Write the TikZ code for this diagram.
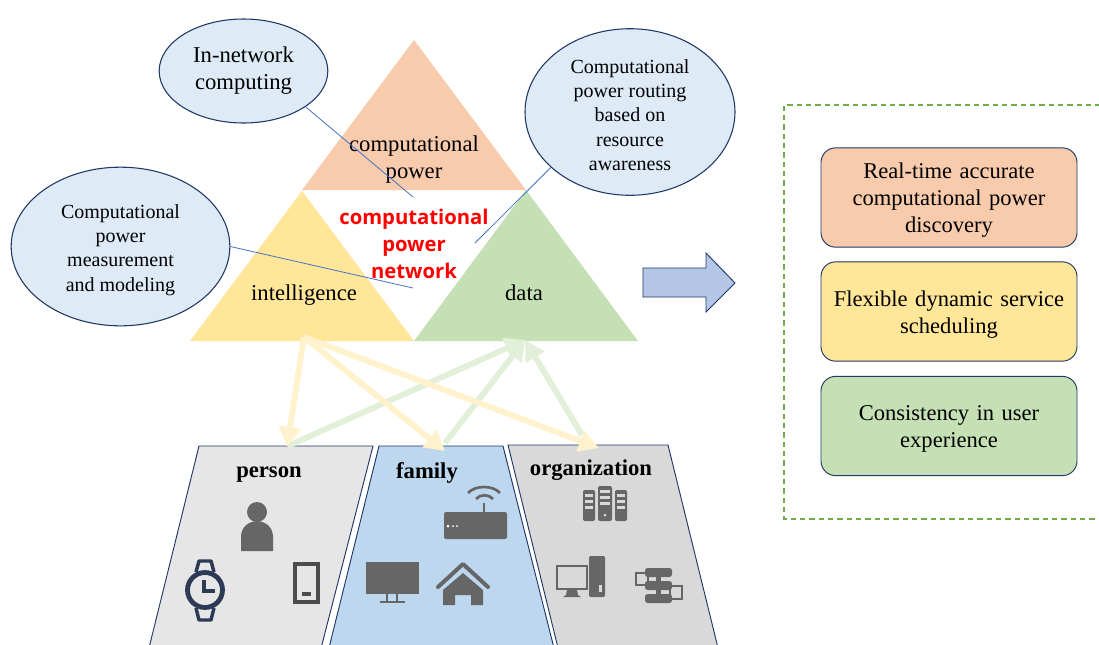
\documentclass[tikz,border=0pt]{standalone}
\usepackage{fontspec}
\setmainfont{Liberation Serif}
\newfontfamily\redfont{Open Sans}
\usetikzlibrary{shapes.geometric,arrows.meta}
\definecolor{powerfill}{HTML}{F8CBAD}
\definecolor{intelfill}{HTML}{FFE699}
\definecolor{datafill}{HTML}{C5E0B4}
\definecolor{bubblefill}{HTML}{DEEBF7}
\definecolor{personfill}{HTML}{E6E6E6}
\definecolor{familyfill}{HTML}{BDD7EE}
\definecolor{orgfill}{HTML}{D9D9D9}
\definecolor{arrowfill}{HTML}{B4C7E7}
\definecolor{darkline}{HTML}{1F3864}
\definecolor{leader}{HTML}{4472C4}
\definecolor{dashgreen}{HTML}{70AD47}
\definecolor{yellowarrow}{HTML}{FFF2CC}
\definecolor{greenarrow}{HTML}{E2F0D9}
\definecolor{icongray}{HTML}{666666}
\definecolor{watchdark}{HTML}{2D3A55}
\tikzset{
  bubble/.style={ellipse, draw=darkline, fill=bubblefill, line width=0.8pt, inner sep=0pt, align=center},
  bubbletext/.style={font=\fontsize{15}{18.3}\selectfont},
  tri/.style={font=\fontsize{17}{20}\selectfont, align=center, text=black},
  goalbox/.style={draw=darkline, rounded corners=11pt, line width=0.7pt, minimum width=192pt, minimum height=74.5pt, align=center, text width=180pt, font=\fontsize{16.9}{20.25}\selectfont, execute at begin node={\rule{0pt}{16pt}}},
  leaderline/.style={leader, line width=0.6pt},
  flowy/.style={yellowarrow, line width=4.4pt, -{Triangle[length=15pt,width=16pt]}},
  flowg/.style={greenarrow, line width=4.4pt, -{Triangle[length=15pt,width=16pt]}},
  group/.style={draw=darkline, line width=0.7pt},
  grouplabel/.style={font=\fontsize{17}{20}\selectfont\bfseries},
  icon/.style={fill=icongray, draw=none}
}
\begin{document}
\begin{tikzpicture}[x=0.75pt,y=-0.75pt]
    \path[use as bounding box, clip] (0,0) rectangle (1099,644);
    \fill[white] (0,0) rectangle (1099,644);
    \fill[powerfill] (414,40) -- (526,190) -- (302,190) -- cycle;
    \fill[intelfill] (302,191) -- (414,341) -- (190,341) -- cycle;
    \fill[datafill] (526,190) -- (638,341) -- (414,341) -- cycle;
    \node[tri] (power) at (414,159.5) {computational\\power};
    \node[tri] (intel) at (304,295) {intelligence};
    \node[tri] (data) at (524,293) {data};
    \node[align=center, text=red, font=\redfont\fontsize{15.2}{20.25}\selectfont\bfseries] (cpn) at (414,244) {computational\\power\\network};
    \node[bubble, minimum width=126.5pt, minimum height=78pt, font=\fontsize{17}{20.25}\selectfont] (innet) at (243.5,71) {In-network\\computing};
    \node[bubble, bubbletext, minimum width=157.5pt, minimum height=111pt] (routing) at (630,112) {\rule{0pt}{15pt}Computational\\power routing\\based on\\resource\\awareness};
    \node[bubble, bubbletext, minimum width=164pt, minimum height=119pt] (measure) at (120.5,246.5) {\rule{0pt}{15.5pt}Computational\\power\\measurement\\and modeling};
    \coordinate (innetend) at (413,197);
    \coordinate (routingend) at (475,243);
    \coordinate (measureend) at (413,288);
    \draw[leaderline] (innet.-30) -- (innetend);
    \draw[leaderline] (routing.215) -- (routingend);
    \draw[leaderline] (measure.0) -- (measureend);
    \draw[group, fill=personfill] (199,446) -- (373,446) -- (318,660) -- (146,660) -- cycle;
    \draw[group, fill=familyfill] (379,446) -- (503,446) -- (557,660) -- (326,660) -- cycle;
    \draw[group, fill=orgfill] (508,445) -- (668,445) -- (721,660) -- (561,660) -- cycle;
    \node[grouplabel] (person) at (269,475) {person};
    \node[grouplabel] (family) at (427,472.5) {family};
    \node[grouplabel] (organization) at (591,470.5) {organization};
    \coordinate (intelroot) at (304,337);
    \coordinate (dataroot) at (525,340);
    \coordinate (persontip) at (287,447);
    \coordinate (familytip) at (445,451);
    \coordinate (orgtip) at (599,448);
    \coordinate (personfoot) at (288,446);
    \coordinate (familyfoot) at (445,443);
    \coordinate (orgfoot) at (582,435);
    \draw[flowg] (personfoot) -- (dataroot);
    \draw[flowg] (familyfoot) -- (dataroot);
    \draw[flowg] (orgfoot) -- (dataroot);
    \draw[flowy] (intelroot) -- (persontip);
    \draw[flowy] (intelroot) -- (familytip);
    \draw[flowy] (intelroot) -- (orgtip);
    \draw[darkline, line width=0.7pt, fill=arrowfill] (643,268) -- (706,268) -- (706,253) -- (735,283) -- (706,312) -- (706,297) -- (643,297) -- cycle;
    \draw[dashgreen, line width=1.1pt, dash pattern=on 4pt off 3pt] (1110,105) -- (784,105) -- (784,519) -- (1110,519);
    \node[goalbox, fill=powerfill] (discovery) at (949,197.5) {Real-time accurate\\computational power\\discovery};
    \node[goalbox, fill=intelfill] (scheduling) at (949,311.5) {Flexible dynamic service\\scheduling};
    \node[goalbox, fill=datafill] (experience) at (949,426) {Consistency in user\\experience};
    % person icons
    \fill[icon] (257,512) circle (10);
    \fill[icon] (241,551) -- (241,537) .. controls (241,516) and (273,516) .. (273,537) -- (273,551) -- cycle;
    \draw[watchdark, line width=3.6pt] (205,590) circle (17.5);
    \draw[watchdark, line width=2.6pt, line join=round] (196,572) -- (199,561) -- (211,561) -- (214,572);
    \draw[watchdark, line width=2.6pt, line join=round] (196,608) -- (199,620) -- (211,620) -- (214,608);
    \draw[watchdark, line width=2.4pt] (204,580) -- (204,591) -- (215,591);
    \draw[black!70, line width=3pt] (295,564) rectangle (318,602);
    \fill[black!70] (302,592) rectangle (311,596);
    % family icons
    \fill[icon] (366,562) rectangle (419,594);
    \draw[icongray, line width=1.5pt] (387,594) -- (387,601) (397,594) -- (397,601) (380,602) -- (405,602);
    \fill[icon, rounded corners=1.5pt] (444,512) rectangle (507,539);
    \fill[white] (448,526) circle (1.5) (453,526) circle (1) (457,526) circle (1);
    \draw[icongray, line width=2pt] (484,512) -- (484,503);
    \draw[icongray, line width=2pt] (476,499) .. controls (480,494) and (489,494) .. (493,499);
    \draw[icongray, line width=2pt] (468,493) .. controls (475,485) and (493,485) .. (500,493);
    \draw[icongray, line width=3pt, line cap=round, line join=round] (438,587) -- (463,564) -- (488,587);
    \fill[icon] (443,605) -- (443,590) -- (463,573) -- (483,590) -- (483,605) -- (471,605) -- (471,595) -- (455,595) -- (455,605) -- cycle;
    % organization icons
    \foreach \x/\w/\t in {583/12/490,598/14/486,615/12/490}
    {   \fill[icon, rounded corners=1.5pt] (\x,\t) rectangle (\x+\w,521);
        \foreach \s in {4,10,16}
        {   \fill[white!75!icongray] (\x+2,\t+\s) rectangle (\x+\w-2,\t+\s+2.5);
        }
    }
    \fill[white!80!icongray] (605,515) circle (1.5);
    \draw[icongray, line width=2pt, fill=white!85!black] (557,566) rectangle (587,589);
    \fill[icon] (567,590) -- (577,590) -- (578,595) -- (581,597) -- (563,597) -- (566,595) -- cycle;
    \fill[icon, rounded corners=1pt] (589,556) rectangle (605,597);
    \fill[white!85!black] (599,585) rectangle (602,592);
    \draw[icongray, line width=1.3pt, fill=white!85!black] (636,573) rectangle (648,585);
    \draw[icongray, line width=1.3pt, fill=white!85!black] (670,586) rectangle (682,599);
    \foreach \y in {568,581,594}
    {   \fill[icon, rounded corners=2pt] (645,\y) rectangle (672,\y+9);
    }
    \fill[icon] (656,577) rectangle (661,594);
  \end{tikzpicture}
\end{document}
